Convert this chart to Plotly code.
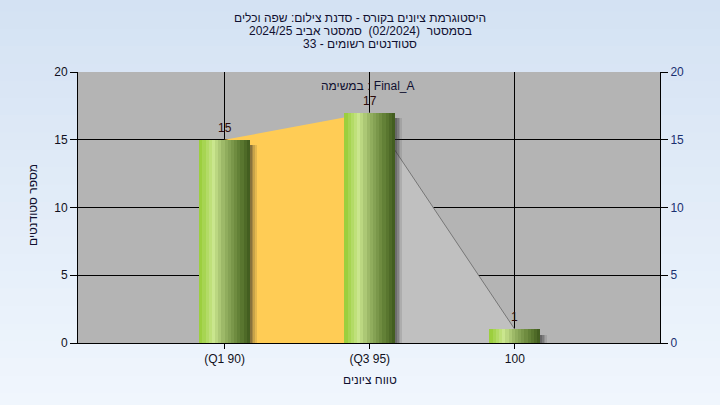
import plotly.graph_objects as go

# -- dados --
faixas = ["(Q1 90)", "(Q3 95)", "100"]
alunos = [15, 17, 1]
titulo_linhas = [
    "היסטוגרמת ציונים בקורס - סדנת צילום: שפה וכלים",
    "בסמסטר  (02/2024)  סמסטר אביב 2024/25",
    "סטודנטים רשומים - 33",
]
tarefa = "במשימה : Final_A"
titulo_x = "טווח ציונים"
titulo_y = "מספר סטודנטים"

FONT = "Liberation Sans, DejaVu Sans, Arial, sans-serif"
W, H = 720, 405
ML, MR, MT, MB = 78, 60, 72, 62
PW, PH = W - ML - MR, H - MT - MB
BAR_W = 0.35
TXT = "#101030"


def px_x(x):
    return (x - ML) / PW


def px_y(y):
    return (H - MB - y) / PH


def mix(stops, t):
    for (t0, c0), (t1, c1) in zip(stops, stops[1:]):
        if t0 <= t <= t1:
            f = (t - t0) / (t1 - t0) if t1 > t0 else 0
            return "rgb({},{},{})".format(*[round(a + (b - a) * f) for a, b in zip(c0, c1)])
    return "rgb({},{},{})".format(*stops[-1][1])


GREEN = [(0.0, (150, 204, 52)), (0.28, (202, 230, 142)), (0.5, (150, 178, 98)),
         (0.8, (96, 126, 52)), (1.0, (62, 88, 28))]
N = 16

fig = go.Figure()

# areas no eixo y (ficam por baixo das barras, que estao em y2)
fig.add_trace(go.Scatter(x=faixas[:2], y=alunos[:2], fill="tozeroy", mode="lines",
                         fillcolor="#FFCC55", line=dict(width=0), hoverinfo="skip"))
fig.add_trace(go.Scatter(x=faixas[1:], y=alunos[1:], fill="tozeroy", mode="lines",
                         fillcolor="#C0C0C0", line=dict(width=1, color="#777777"),
                         hoverinfo="skip"))

# sombra
for i, a in enumerate([0.55, 0.4, 0.25, 0.12]):
    fig.add_trace(go.Bar(x=faixas, y=[v - 0.4 for v in alunos], width=0.012,
                         offset=BAR_W / 2 + i * 0.012, yaxis="y2",
                         marker=dict(color="rgba(40,40,40,{})".format(a), line=dict(width=0)),
                         hoverinfo="skip"))

# barras cilindricas (faixas verticais com degrade)
for i in range(N):
    fig.add_trace(go.Bar(x=faixas, y=alunos, width=BAR_W / N * 1.05,
                         offset=-BAR_W / 2 + i * BAR_W / N, yaxis="y2",
                         marker=dict(color=mix(GREEN, (i + 0.5) / N), line=dict(width=0)),
                         hoverinfo="skip"))

# fundo em degrade + area do grafico
shapes = []
steps = 24
y_lo, y_hi = px_y(H) - 0.02, px_y(0) + 0.02
for k in range(steps):
    t = k / (steps - 1)
    y0 = y_hi - (y_hi - y_lo) * k / steps
    y1 = y_hi - (y_hi - y_lo) * (k + 1) / steps
    shapes.append(dict(type="rect", xref="paper", yref="paper", layer="below",
                       x0=px_x(0) - 0.02, x1=px_x(W) + 0.02, y0=y1, y1=y0 + 0.002,
                       fillcolor=mix([(0, (212, 226, 243)), (1, (240, 246, 253))], t),
                       line=dict(width=0)))
shapes.append(dict(type="rect", xref="paper", yref="paper", layer="below",
                   x0=0, x1=1, y0=0, y1=1, fillcolor="#B4B4B4", line=dict(width=0)))

annots = []
# rotulos das barras (x pelo indice da categoria, "100" seria lido como numero)
for idx, v in enumerate(alunos):
    annots.append(dict(text=str(v), x=idx, y=v, xref="x", yref="y2", showarrow=False,
                       yanchor="middle", yshift=12,
                       font=dict(size=12, color="#2a0a0a", family=FONT)))
for j, linha in enumerate(titulo_linhas):
    annots.append(dict(text=linha, xref="paper", yref="paper", x=px_x(360),
                       y=px_y(18 + 13 * j), showarrow=False, xanchor="center",
                       yanchor="middle", font=dict(size=12, color=TXT, family=FONT)))
annots.append(dict(text=tarefa, xref="paper", yref="paper", x=px_x(368), y=px_y(86),
                   showarrow=False, xanchor="center", yanchor="middle",
                   font=dict(size=12, color=TXT, family=FONT)))
annots.append(dict(text=titulo_x, xref="paper", yref="paper", x=px_x(370), y=px_y(380),
                   showarrow=False, xanchor="center", yanchor="middle",
                   font=dict(size=12, color=TXT, family=FONT)))
annots.append(dict(text=titulo_y, xref="paper", yref="paper", x=px_x(33), y=px_y(205),
                   showarrow=False, textangle=-90, xanchor="center", yanchor="middle",
                   font=dict(size=12, color=TXT, family=FONT)))

fig.update_layout(
    width=W, height=H, margin=dict(l=ML, r=MR, t=MT, b=MB),
    paper_bgcolor="#E2ECF8", plot_bgcolor="rgba(0,0,0,0)",
    barmode="overlay", showlegend=False, bargap=0,
    font=dict(family=FONT, size=12, color="#000000"),
    shapes=shapes, annotations=annots,
    xaxis=dict(type="category", range=[-1.01, 3.0], showgrid=True, gridcolor="#000000",
               gridwidth=1, showline=True, linecolor="#000000", linewidth=1,
               ticks="outside", ticklen=5, tickcolor="#000000",
               tickfont=dict(size=12, color="#101020"), zeroline=False),
    yaxis=dict(range=[0, 20], dtick=5, showgrid=True, gridcolor="#000000", gridwidth=1,
               showline=True, linecolor="#000000", linewidth=1, ticks="outside",
               ticklen=7, tickcolor="#000000", zeroline=False,
               tickfont=dict(size=12, color="#101020")),
    yaxis2=dict(range=[0, 20], dtick=5, overlaying="y", side="right", matches="y",
                showgrid=False, showline=True, linecolor="#000000", linewidth=1,
                ticks="outside", ticklen=7, tickcolor="#000000", zeroline=False,
                tickfont=dict(size=12, color="#1a3070")),
)

fig.write_html("out.html", config={"displayModeBar": False},
               post_script="document.body.style.margin='0';")
